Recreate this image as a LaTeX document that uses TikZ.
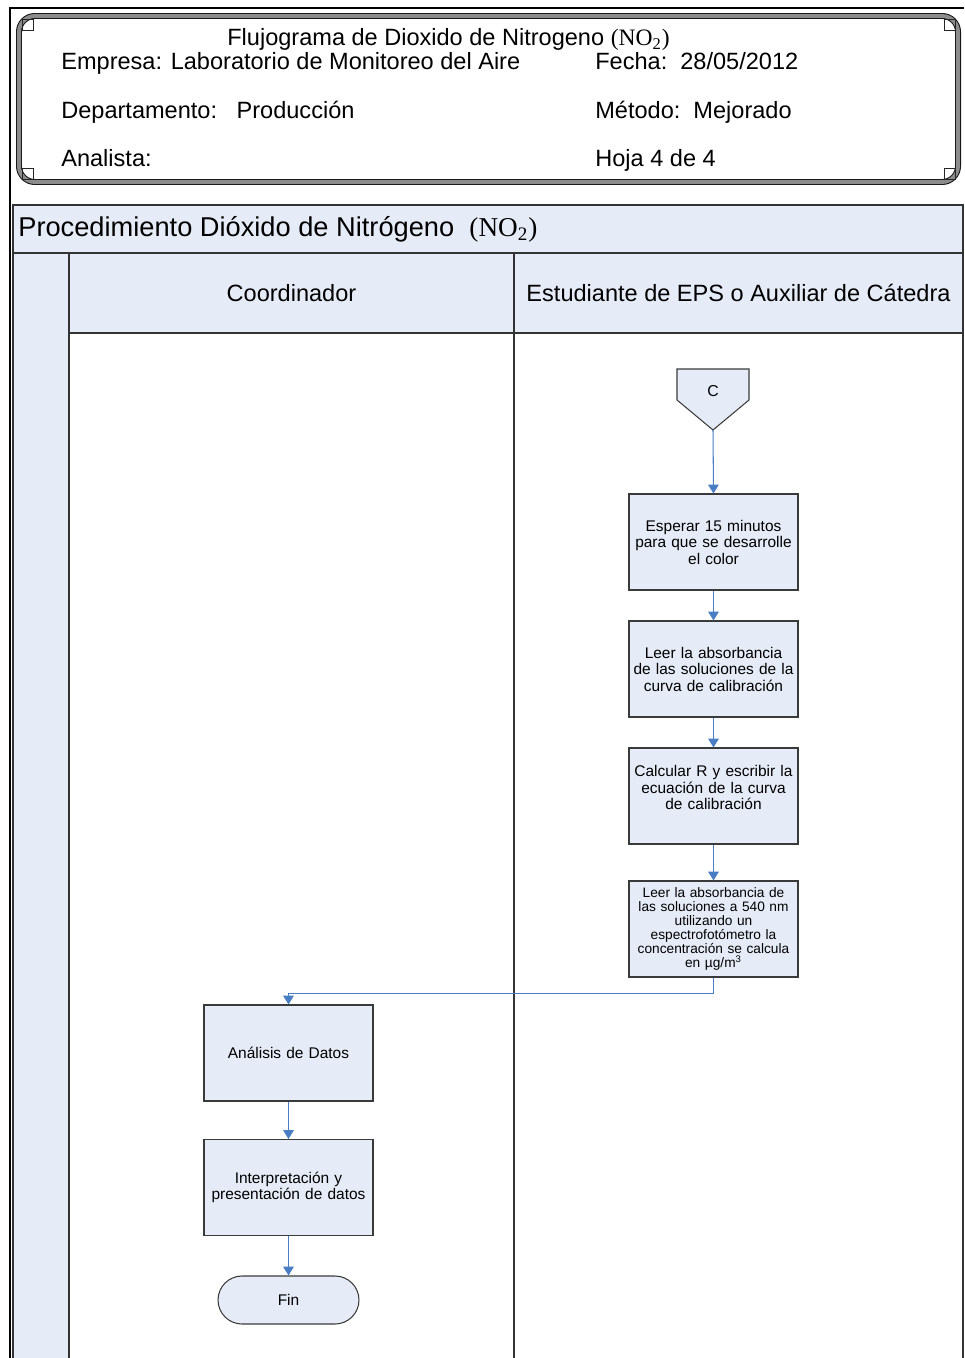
\documentclass[tikz,border=0pt]{standalone}
\usepackage{fontspec}
\setmainfont{Liberation Sans}
\newfontfamily\timesfont{Liberation Serif}
\usetikzlibrary{positioning,arrows.meta}

\definecolor{lanefill}{HTML}{E6ECF7}
\definecolor{flowblue}{HTML}{4A7EC4}
\definecolor{boxline}{HTML}{3A3A3A}

\newcommand{\notwo}{{\timesfont(NO\textsubscript{2})}}

\tikzset{
  proc/.style={draw=boxline, fill=lanefill, line width=0.6pt, minimum width=3.38cm,
    minimum height=1.92cm, text width=3.3cm, align=center, inner sep=0pt,
    font=\fontsize{8.8}{9.4}\selectfont},
  procsmall/.style={proc, font=\fontsize{7.8}{8}\selectfont},
  finbox/.style={draw=boxline, fill=lanefill, line width=0.6pt, rounded corners=0.48cm,
    minimum width=2.82cm, minimum height=0.96cm, font=\fontsize{8.8}{9.4}\selectfont},
  flow/.style={draw=flowblue, line width=0.6pt, -{Triangle[length=5pt,width=6pt]}},
  hdr/.style={anchor=base west, inner sep=0pt, font=\fontsize{13.4}{16}\selectfont},
  lanebox/.style={draw=black!80, fill=lanefill, line width=0.6pt},
  frameline/.style={draw=black!90, double=black!45, double distance=2.2pt, line width=0.6pt},
}

\begin{document}
\begin{tikzpicture}[x=0.02cm,y=-0.02cm]
\useasboundingbox (0,0) rectangle (964,1358);

% marco exterior
\draw[line width=1.2pt] (10,1358) -- (10,8) -- (964,8);

% encabezado
\draw[frameline, rounded corners=9] (19,16) rectangle (958,182);
\foreach \cx/\cy/\dx/\dy in {19/16/1/1, 958/16/-1/1, 19/182/1/-1, 958/182/-1/-1}
  \draw[black!85, line width=0.5pt] (\cx+3*\dx,\cy+3*\dy) rectangle ++(11*\dx,11*\dy);

\node[hdr] (titulo) at (227,46) {Flujograma de Dioxido de Nitrogeno \notwo};
\node[hdr] (empresa) at (61,70) {Empresa: Laboratorio de Monitoreo del Aire};
\node[hdr] (fecha) at (595,70) {Fecha:\ \ 28/05/2012};
\node[hdr] (depto) at (61,119) {Departamento:\ \ \ Producción};
\node[hdr] (metodo) at (595,119) {Método:\ \ Mejorado};
\node[hdr] (analista) at (61,167) {Analista:};
\node[hdr] (hoja) at (595,167) {Hoja 4 de 4};

% piscina y carriles
\draw[lanebox] (13,205) rectangle (963,253);
\draw[lanebox] (13,253) rectangle (69,1370);
\draw[lanebox] (69,253) rectangle (514,333);
\draw[lanebox] (514,253) rectangle (963,333);
\draw[black!80, line width=0.6pt] (514,333) -- (514,1370);
\draw[black!80, line width=0.6pt] (963,333) -- (963,1370);

\node[hdr, font=\fontsize{15.5}{18}\selectfont] (proc) at (18,237)
  {Procedimiento Dióxido de Nitrógeno\ \ \notwo};
\node[font=\fontsize{13.4}{16}\selectfont] (coord) at (291.5,293) {Coordinador};
\node[font=\fontsize{13.4}{16}\selectfont] (estud) at (738.5,293) {Estudiante de EPS o Auxiliar de Cátedra};

% conector C
\draw[boxline, fill=lanefill, line width=0.6pt] (677,369) -- (749,369) -- (749,400)
  -- (713,430) -- (677,400) -- cycle;
\node[font=\fontsize{9}{10}\selectfont] (conC) at (713,391) {C};
\coordinate (conCtip) at (713,430);

% pasos
\node[proc] (espera) at (713.5,542) {Esperar 15 minutos\\para que se desarrolle\\el color};
\node[proc] (curva) at (713.5,669) {Leer la absorbancia\\de las soluciones de la\\curva de calibración};
\node[proc] (calc) at (713.5,796) {Calcular R y escribir la\\ecuación de la curva\\de calibración\\\mbox{}};
\node[procsmall] (lectura) at (713.5,929) {Leer la absorbancia de\\las soluciones a 540 nm\\utilizando un\\espectrofotómetro la\\concentración se calcula\\en µg/m\textsuperscript{3}};
\node[proc] (analisis) at (288.5,1053) {Análisis de Datos};
\node[proc] (interp) at (288.5,1187.5) {Interpretación y\\presentación de datos};
\node[finbox] (fin) at (288.5,1300) {Fin};

% flechas
\draw[flow] (conCtip) -- (espera.north);
\draw[flow] (espera) -- (curva);
\draw[flow] (curva) -- (calc);
\draw[flow] (calc) -- (lectura);
\draw[flow] (lectura.south) -- ++(0,16) -| (analisis.north);
\draw[flow] (analisis) -- (interp);
\draw[flow] (interp) -- (fin);
\end{tikzpicture}
\end{document}
